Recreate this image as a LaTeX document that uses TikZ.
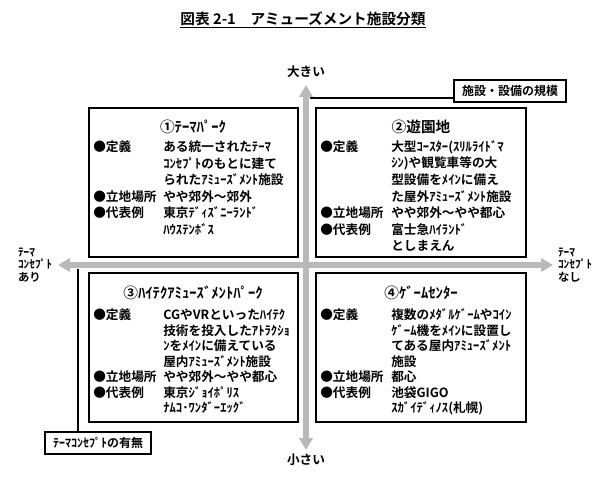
\documentclass[tikz,border=0pt]{standalone}
\usepackage{fontspec}
\setmainfont{Noto Sans CJK JP}[BoldFont={* Bold}]
\usetikzlibrary{arrows.meta}
\begin{document}
\begin{tikzpicture}[x=0.75pt,y=-0.75pt,
  txt/.style={anchor=west,inner sep=0pt,font=\bfseries\fontsize{9.5}{11}\selectfont},
  ttl/.style={inner sep=0pt,font=\bfseries\fontsize{11}{13}\selectfont},
  quad/.style={draw,line width=0.9pt},
  lab/.style={draw,line width=0.9pt,inner xsep=6pt,minimum height=22*0.75pt,font=\bfseries\fontsize{9}{11}\selectfont},
  axis/.style={line width=5pt,gray!55,{Triangle[length=9pt,width=10pt]}-{Triangle[length=9pt,width=10pt]}},
  side/.style={inner sep=0pt,align=left,font=\bfseries\fontsize{8.5}{9.5}\selectfont}]
\useasboundingbox (0,0) rectangle (600,481);
\node[ttl] (title) at (303,20) {\underline{図表 2-1\quad アミューズメント施設分類}};
% axes
\coordinate (vt) at (306,85); \coordinate (vb) at (306,450);
\coordinate (hl) at (58,265); \coordinate (hr) at (553,265);
\draw[axis] (vt) -- (vb);
\draw[axis] (hl) -- (hr);
\node[txt,anchor=center] (big) at (306,72) {大きい};
\node[txt,anchor=center] (small) at (306,460) {小さい};
\node[side] (left) at (35,265) {ﾃｰﾏ\\ｺﾝｾﾌﾟﾄ\\あり};
\node[side] (right) at (575,265) {ﾃｰﾏ\\ｺﾝｾﾌﾟﾄ\\なし};
% label boxes
\node[lab] (scale) at (510,91) {施設・設備の規模};
\coordinate (sj) at (310,98);
\draw[line width=0.9pt] (sj) -- (sj -| scale.west);
\node[lab] (theme) at (98,443) {ﾃｰﾏｺﾝｾﾌﾟﾄの有無};
\coordinate (tj) at (78,269);
\draw[line width=0.9pt] (tj) -- (tj |- theme.north);
% quadrants
\draw[quad] (89,108) rectangle (298,257);
\draw[quad] (316,108) rectangle (526,257);
\draw[quad] (89,273) rectangle (298,422);
\draw[quad] (316,273) rectangle (526,422);
% Q1
\node[ttl] (q1) at (193,127) {①ﾃｰﾏﾊﾟｰｸ};
\node[txt] (q1a) at (93,147) {●定義};
\node[txt] (q1b) at (163,147) {ある統一されたﾃｰﾏ};
\node[txt] (q1c) at (163,163.5) {ｺﾝｾﾌﾟﾄのもとに建て};
\node[txt] (q1d) at (163,180) {られたｱﾐｭｰｽﾞﾒﾝﾄ施設};
\node[txt] (q1e) at (93,196.5) {●立地場所};
\node[txt] (q1f) at (163,196.5) {やや郊外～郊外};
\node[txt] (q1g) at (93,213) {●代表例};
\node[txt] (q1h) at (163,213) {東京ﾃﾞｨｽﾞﾆｰﾗﾝﾄﾞ};
\node[txt] (q1i) at (163,229.5) {ﾊｳｽﾃﾝﾎﾞｽ};
% Q2
\node[ttl] (q2) at (421,127) {②遊園地};
\node[txt] (q2a) at (320,147) {●定義};
\node[txt] (q2b) at (391,147) {大型ｺｰｽﾀｰ(ｽﾘﾙﾗｲﾄﾞﾏ};
\node[txt] (q2c) at (391,163.5) {ｼﾝ)や観覧車等の大};
\node[txt] (q2d) at (391,180) {型設備をﾒｲﾝに備え};
\node[txt] (q2e) at (391,196.5) {た屋外ｱﾐｭｰｽﾞﾒﾝﾄ施設};
\node[txt] (q2f) at (320,213) {●立地場所};
\node[txt] (q2g) at (391,213) {やや郊外～やや都心};
\node[txt] (q2h) at (320,229.5) {●代表例};
\node[txt] (q2i) at (391,229.5) {富士急ﾊｲﾗﾝﾄﾞ};
\node[txt] (q2j) at (391,246) {としまえん};
% Q3
\node[ttl] (q3) at (193,293) {③ﾊｲﾃｸｱﾐｭｰｽﾞﾒﾝﾄﾊﾟｰｸ};
\node[txt] (q3a) at (93,315) {●定義};
\node[txt] (q3b) at (163,315) {CGやVRといったﾊｲﾃｸ};
\node[txt] (q3c) at (163,330.5) {技術を投入したｱﾄﾗｸｼｮ};
\node[txt] (q3d) at (163,346) {ﾝをﾒｲﾝに備えている};
\node[txt] (q3e) at (163,361.5) {屋内ｱﾐｭｰｽﾞﾒﾝﾄ施設};
\node[txt] (q3f) at (93,377) {●立地場所};
\node[txt] (q3g) at (163,377) {やや郊外～やや都心};
\node[txt] (q3h) at (93,392.5) {●代表例};
\node[txt] (q3i) at (163,392.5) {東京ｼﾞｮｲﾎﾟﾘｽ};
\node[txt] (q3j) at (163,408) {ﾅﾑｺ･ﾜﾝﾀﾞｰｴｯｸﾞ};
% Q4
\node[ttl] (q4) at (421,293) {④ｹﾞｰﾑｾﾝﾀｰ};
\node[txt] (q4a) at (320,315) {●定義};
\node[txt] (q4b) at (391,315) {複数のﾒﾀﾞﾙｹﾞｰﾑやｺｲﾝ};
\node[txt] (q4c) at (391,330.5) {ｹﾞｰﾑ機をﾒｲﾝに設置し};
\node[txt] (q4d) at (391,346) {てある屋内ｱﾐｭｰｽﾞﾒﾝﾄ};
\node[txt] (q4e) at (391,361.5) {施設};
\node[txt] (q4f) at (320,377) {●立地場所};
\node[txt] (q4g) at (391,377) {都心};
\node[txt] (q4h) at (320,392.5) {●代表例};
\node[txt] (q4i) at (391,392.5) {池袋GIGO};
\node[txt] (q4j) at (391,408) {ｽｶﾞｲﾃﾞｨﾉｽ(札幌)};
\end{tikzpicture}
\end{document}
